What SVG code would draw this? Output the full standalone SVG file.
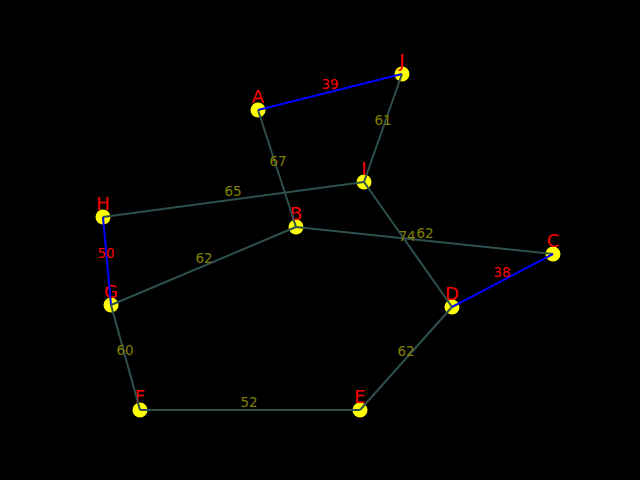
<svg xmlns="http://www.w3.org/2000/svg" width="640" height="480" viewBox="0 0 640 480">
<style>
.e{stroke:#2f4f4f;stroke-width:2;fill:none}
.m{stroke:#0000ff;stroke-width:2;fill:none}
.w{font-family:"DejaVu Sans",sans-serif;font-size:13.5px;fill:#808000;text-anchor:middle}
.wm{font-family:"DejaVu Sans",sans-serif;font-size:13.5px;fill:#ff0000;text-anchor:middle}
.n circle{fill:#ffff00}
.n text{font-family:"DejaVu Sans",sans-serif;font-size:18px;fill:#ff0000;text-anchor:middle}
</style>
<rect width="640" height="480" fill="#000000"/>
<g id="A" class="n"><circle cx="258" cy="110" r="7.5"/><text x="258" y="103">A</text></g>
<g id="J" class="n"><circle cx="402" cy="74" r="7.5"/><text x="402" y="67">J</text></g>
<g id="I" class="n"><circle cx="364" cy="182" r="7.5"/><text x="364" y="175">I</text></g>
<g id="H" class="n"><circle cx="103" cy="217" r="7.5"/><text x="103" y="210">H</text></g>
<g id="B" class="n"><circle cx="296" cy="227" r="7.5"/><text x="296" y="220">B</text></g>
<g id="C" class="n"><circle cx="553" cy="254" r="7.5"/><text x="553" y="247">C</text></g>
<g id="G" class="n"><circle cx="111" cy="305" r="7.5"/><text x="111" y="298">G</text></g>
<g id="D" class="n"><circle cx="452" cy="307" r="7.5"/><text x="452" y="300">D</text></g>
<g id="F" class="n"><circle cx="140" cy="410" r="7.5"/><text x="140" y="403">F</text></g>
<g id="E" class="n"><circle cx="360" cy="410" r="7.5"/><text x="360" y="403">E</text></g>
<g id="connectors">
<line class="m" x1="258" y1="110" x2="402" y2="74"/>
<line class="e" x1="402" y1="74" x2="364" y2="182"/>
<line class="e" x1="258" y1="110" x2="296" y2="227"/>
<line class="e" x1="103" y1="217" x2="364" y2="182"/>
<line class="m" x1="103" y1="217" x2="111" y2="305"/>
<line class="e" x1="111" y1="305" x2="296" y2="227"/>
<line class="e" x1="296" y1="227" x2="553" y2="254"/>
<line class="e" x1="364" y1="182" x2="452" y2="307"/>
<line class="m" x1="452" y1="307" x2="553" y2="254"/>
<line class="e" x1="111" y1="305" x2="140" y2="410"/>
<line class="e" x1="140" y1="410" x2="360" y2="410"/>
<line class="e" x1="360" y1="410" x2="452" y2="307"/>
<text class="wm" x="330" y="89">39</text>
<text class="w" x="383" y="125">61</text>
<text class="w" x="278" y="166">67</text>
<text class="w" x="233" y="196">65</text>
<text class="wm" x="106" y="258">50</text>
<text class="w" x="204" y="263">62</text>
<text class="w" x="407" y="241">74</text>
<text class="w" x="425" y="238">62</text>
<text class="wm" x="502" y="277">38</text>
<text class="w" x="125" y="355">60</text>
<text class="w" x="249" y="407">52</text>
<text class="w" x="406" y="356">62</text>
</g>
</svg>
